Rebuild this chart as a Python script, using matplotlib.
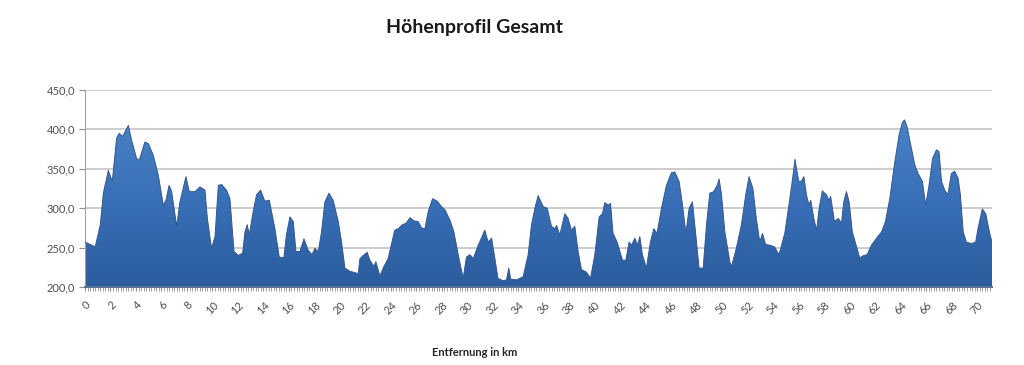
import matplotlib.pyplot as plt
import numpy as np
from matplotlib.colors import LinearSegmentedColormap
from matplotlib.ticker import MultipleLocator

# Streckenkilometer und Höhe
km = [0.0, 0.8, 1.2, 1.44, 1.83, 2.14, 2.48, 2.69, 2.95, 3.4, 3.66, 4.05, 4.26, 4.7, 4.97,
      5.36, 5.75, 6.14, 6.35, 6.6, 6.8, 7.19, 7.45, 7.92, 8.18, 8.63, 9.02, 9.41, 9.6, 9.93,
      10.2, 10.46, 10.72, 11.1, 11.37, 11.69, 12.03, 12.37, 12.55, 12.73, 12.89, 13.2, 13.46,
      13.78, 14.1, 14.46, 14.9, 15.24, 15.6, 15.8, 16.08, 16.34, 16.55, 16.86, 17.18, 17.5,
      17.8, 18.04, 18.3, 18.56, 18.82, 19.14, 19.47, 19.87, 20.13, 20.39, 20.78, 21.44, 21.57,
      21.83, 22.14, 22.35, 22.67, 22.82, 23.14, 23.45, 23.78, 24.05, 24.3, 24.57, 24.9, 25.2,
      25.5, 25.8, 26.14, 26.4, 26.67, 26.93, 27.27, 27.63, 27.97, 28.24, 28.63, 28.94, 29.28,
      29.67, 29.93, 30.2, 30.46, 30.85, 31.37, 31.63, 31.9, 32.16, 32.4, 32.8, 33.07, 33.25,
      33.4, 33.86, 34.37, 34.77, 35.03, 35.3, 35.55, 35.95, 36.26, 36.6, 36.86, 37.0, 37.25,
      37.65, 37.9, 38.17, 38.43, 38.69, 38.95, 39.34, 39.66, 40.0, 40.34, 40.6, 40.78, 41.04,
      41.23, 41.43, 41.75, 42.17, 42.43, 42.69, 42.88, 43.14, 43.35, 43.53, 43.73, 44.05,
      44.36, 44.63, 44.88, 45.23, 45.62, 46.01, 46.27, 46.61, 46.88, 47.14, 47.4, 47.66,
      47.84, 48.18, 48.5, 48.76, 49.02, 49.33, 49.6, 49.75, 49.94, 50.2, 50.59, 50.72, 51.1,
      51.5, 51.84, 52.1, 52.4, 52.67, 52.94, 53.15, 53.4, 53.73, 54.1, 54.45, 54.9, 55.3,
      55.55, 55.7, 56.0, 56.2, 56.4, 56.6, 56.8, 56.94, 57.18, 57.4, 57.6, 57.85, 58.17,
      58.37, 58.5, 58.8, 59.1, 59.35, 59.53, 59.74, 59.95, 60.2, 60.5, 60.78, 61.1, 61.36,
      61.7, 62.1, 62.5, 62.8, 63.14, 63.5, 63.87, 64.13, 64.3, 64.5, 64.84, 65.1, 65.36,
      65.7, 65.96, 66.22, 66.5, 66.8, 67.0, 67.2, 67.45, 67.7, 67.97, 68.23, 68.5, 68.68,
      68.9, 69.15, 69.54, 69.88, 70.06, 70.4, 70.67, 70.98, 71.16]
hoehe = [257, 251, 279, 319, 348, 334, 389, 395, 391, 405, 386, 363, 361, 384, 382,
         367, 342, 304, 310, 329, 321, 277, 308, 340, 321, 321, 327, 323, 287, 249,
         264, 329, 330, 323, 312, 245, 240, 243, 270, 279, 266, 296, 317,
         323, 309, 310, 274, 238, 237, 266, 289, 283, 245, 245, 261, 247,
         241, 249, 245, 270, 308, 319, 310, 283, 257, 224, 220, 217, 236,
         240, 244, 234, 226, 232, 214, 226, 236, 255, 272, 274, 279, 281,
         288, 284, 283, 275, 274, 296, 312, 309, 302, 298, 285, 270, 241,
         211, 238, 241, 236, 253, 272, 257, 262, 236, 211, 208, 209, 224,
         210, 209, 213, 241, 279, 300, 316, 302, 300, 277, 274, 278, 266,
         293, 287, 272, 277, 245, 222, 219, 211, 241, 289, 293, 307, 304,
         306, 268, 257, 234, 234, 257, 253, 262, 253, 264, 241, 224,
         257, 274, 268, 300, 329, 345, 346, 334, 304, 268, 300, 308,
         279, 224, 224, 279, 319, 321, 329, 337, 317, 270, 232, 226, 249,
         279, 317, 340, 325, 287, 257, 268, 254, 253, 251, 241, 268, 312,
         342, 362, 334, 334, 340, 317, 304, 310, 287, 272, 300, 322, 317,
         310, 315, 283, 287, 281, 308, 321, 308, 270, 253, 237, 240, 241,
         253, 262, 270, 283, 312, 355, 393, 409, 412, 403, 376, 355, 344,
         334, 304, 329, 363, 374, 372, 334, 323, 317, 344, 347, 338, 317,
         270, 257, 255, 257, 274, 299, 293, 268, 257]

x_ticks = list(range(0, 71, 2))
y_ticks = [200, 250, 300, 350, 400, 450]
y_labels = ["200,0", "250,0", "300,0", "350,0", "400,0", "450,0"]

plt.rcParams["font.family"] = ["Lato", "DejaVu Sans"]

fig = plt.figure(figsize=(10.24, 3.65), dpi=100)
ax = fig.add_axes([85 / 1024, 1 - 287 / 365, 907 / 1024, 197 / 365])

x = np.array(km)
y = np.array(hoehe)

# Fläche mit Farbverlauf
area = ax.fill_between(x, 200, y, facecolor="none", edgecolor="none", zorder=2)
cmap = LinearSegmentedColormap.from_list("blau", ["#2b5c9e", "#386fb6", "#4a82c6"])
grad = np.linspace(0, 1, 256).reshape(-1, 1)
img = ax.imshow(grad, cmap=cmap, origin="lower", aspect="auto",
                extent=[x[0], x[-1], 200, 415], zorder=2)
img.set_clip_path(area.get_paths()[0], transform=ax.transData)
ax.plot(x, y, color="#34588c", lw=0.7, zorder=3)

ax.set_xlim(0, x[-1])
ax.set_ylim(200, 450)

ax.set_yticks(y_ticks)
ax.set_yticklabels(y_labels, fontsize=8, color="#505050")
ax.set_xticks(x_ticks)
ax.set_xticklabels([str(t) for t in x_ticks], fontsize=8, color="#505050",
                   rotation=45, ha="right", va="top", rotation_mode="anchor")
ax.xaxis.set_minor_locator(MultipleLocator(0.2))
ax.tick_params(axis="x", which="both", length=3, color="#909090", pad=6)
ax.tick_params(axis="y", length=4, color="#909090", pad=3)

ax.grid(axis="y", color="#c4c4c4", lw=1.2, zorder=0)
for s in ["top", "right"]:
    ax.spines[s].set_visible(False)
ax.spines["left"].set_color("#a0a0a0")
ax.spines["bottom"].set_color("#5a7496")
ax.spines["bottom"].set_linewidth(1.5)
ax.spines["bottom"].set_zorder(4)

fig.text(474 / 1024, 1 - 27 / 365, "Höhenprofil Gesamt", ha="center", va="center",
         fontsize=14, fontweight="bold", color="#1a1a1a")
fig.text(475 / 1024, 1 - 353 / 365, "Entfernung in km", ha="center", va="center",
         fontsize=8, fontweight="bold", color="#262626")

fig.savefig("out.png", dpi=100, facecolor="white")
